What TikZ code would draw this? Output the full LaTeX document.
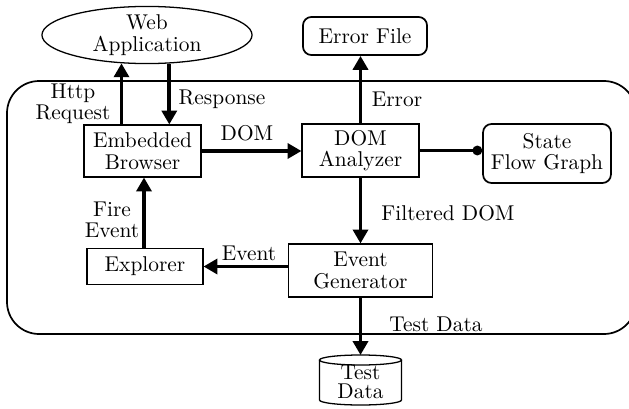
\documentclass[tikz,border=0pt]{standalone}
\usetikzlibrary{arrows.meta,shapes.geometric}
\begin{document}
\begin{tikzpicture}[x=0.4674pt,y=-0.4674pt,
  box/.style={draw,line width=0.5pt,align=center,inner sep=0pt},
  rbox/.style={draw,line width=0.8pt,rounded corners=4pt,align=center,inner sep=0pt},
  flow/.style={line width=1.8pt,-{Triangle[length=6.5pt,width=7pt]}},
  dotflow/.style={line width=1.8pt,-{Circle[length=4.5pt]}},
  lbl/.style={align=center,inner sep=0pt}]
\useasboundingbox (0,0) rectangle (629,408);
\clip (0,0) rectangle (629,408);
% container
\draw[line width=0.8pt,rounded corners=15pt] (7,81) rectangle (636,334);
% nodes
\node[draw,ellipse,line width=0.6pt,align=center,inner sep=0pt,minimum width=98.2pt,minimum height=23.4pt] (wa) at (147,35) {Web\\[-2pt]Application};
\node[rbox,minimum width=58pt,minimum height=17.8pt] (ef) at (365,36) {Error File};
\node[box,minimum width=54.7pt,minimum height=24.3pt] (eb) at (142.5,151) {Embedded\\[-2pt]Browser};
\node[box,minimum width=54.7pt,minimum height=24.8pt] (da) at (360.5,150.5) {DOM\\[-2pt]Analyzer};
\node[rbox,minimum width=59.8pt,minimum height=27.6pt] (sfg) at (547,153.5) {State\\[-2pt]Flow Graph};
\node[box,minimum width=54.2pt,minimum height=16.4pt] (ex) at (145,266.5) {Explorer};
\node[box,minimum width=67.3pt,minimum height=24.8pt] (eg) at (360.5,270.5) {Event\\[-2pt]Generator};
% cylinder
\node[lbl] (td) at (360.5,382) {Test\\[-3pt]Data};
\coordinate (tdtop) at (360.5,355);
\draw[line width=0.6pt] (360.5,360) ellipse [x radius=41, y radius=5];
\draw[line width=0.6pt] (319.5,360) -- (319.5,400) arc[start angle=180,end angle=0,x radius=41,y radius=5] -- (401.5,360);
% connectors
\draw[flow] (eb.north -| wa.-132) -- (wa.-132);
\draw[flow] (wa.-52) -- (eb.north -| wa.-52);
\draw[flow] (eb.east) -- (eb.east -| da.west);
\draw[flow] (da.north) -- (da.north |- ef.south);
\draw[dotflow] (da.east) -- (da.east -| sfg.west);
\draw[flow] (da.south) -- (eg.north);
\draw[flow] (ex.east -| eg.west) -- (ex.east);
\draw[flow] (ex.north -| 144,0) -- (eb.south -| 144,0);
\draw[flow] (eg.south) -- (tdtop);
% labels
\node[lbl] (l1) at (73,104) {Http\\[-2pt]Request};
\node[lbl] (l2) at (222,99) {Response};
\node[lbl] (l3) at (247,133) {DOM};
\node[lbl] (l4) at (397,99) {Error};
\node[lbl] (l5) at (448,213) {Filtered DOM};
\node[lbl] (l6) at (112,220) {Fire\\[-2pt]Event};
\node[lbl] (l7) at (249,253) {Event};
\node[lbl] (l8) at (436,324) {Test Data};
\end{tikzpicture}
\end{document}
